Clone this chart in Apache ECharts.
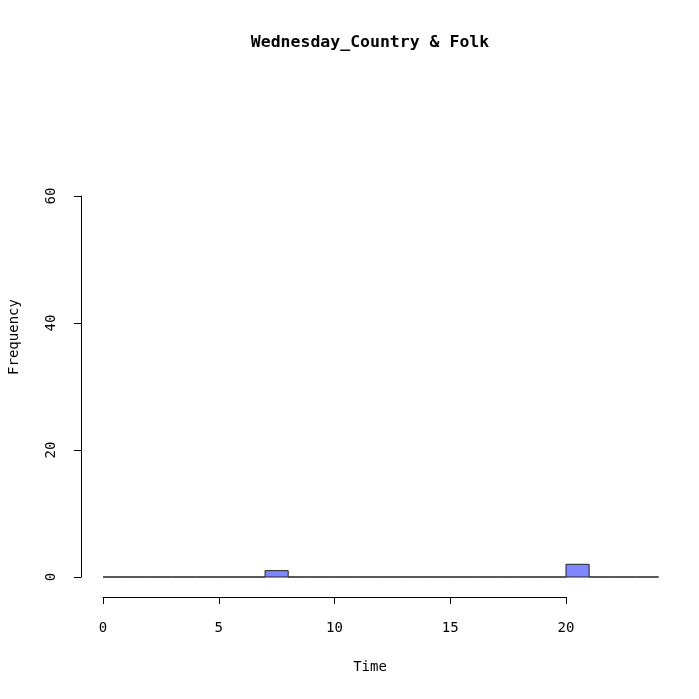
<!DOCTYPE html>
<html>
<head>
<meta charset="utf-8">
<script src="https://cdn.jsdelivr.net/npm/echarts@6/dist/echarts.min.js"></script>
<style>
  html, body { margin: 0; padding: 0; background: #fff; }
  #chart { width: 699px; height: 699px; }
</style>
</head>
<body>
<div id="chart"></div>
<script>
// histogram bins (width 1 hour) and counts
const binStarts = [0,1,2,3,4,5,6,7,8,9,10,11,12,13,14,15,16,17,18,19,20,21,22,23];
const counts    = [0,0,0,0,0,0,0,1,0,0,0,0,0,0,0,0,0,0,0,0,2,0,0,0];
const binWidth = 1;
const xTicks = [0, 5, 10, 15, 20];
const yTicks = [0, 20, 40, 60];

const FONT = "DejaVu Sans Mono";
const data = binStarts.map((s, i) => [s, s + binWidth, counts[i]]);

const chart = echarts.init(document.getElementById("chart"), null, { renderer: "canvas" });

chart.setOption({
  animation: false,
  backgroundColor: "#fff",
  title: {
    text: "Wednesday_Country & Folk",
    left: 365, top: 29, textAlign: "center",
    textStyle: { fontFamily: FONT, fontWeight: "bold", fontSize: 16.5, color: "#000" }
  },
  grid: [
    { left: 103, width: 24 * 23.15, top: 196, height: 381 },
    { left: 103, width: 20 * 23.15, top: 196, height: 381 }
  ],
  xAxis: [
    { type: "value", gridIndex: 0, min: 0, max: 24, show: false },
    {
      type: "value", gridIndex: 1, min: xTicks[0], max: xTicks[xTicks.length - 1], interval: 5,
      offset: 20,
      axisLine: { show: true, onZero: false, lineStyle: { color: "#000", width: 1 } },
      axisTick: { show: true, length: 7, lineStyle: { color: "#000" } },
      axisLabel: { fontFamily: FONT, fontSize: 14, color: "#000", margin: 24 },
      splitLine: { show: false }
    }
  ],
  yAxis: [
    {
      type: "value", gridIndex: 0, min: yTicks[0], max: yTicks[yTicks.length - 1], interval: 20,
      offset: 22,
      axisLine: { show: true, onZero: false, lineStyle: { color: "#000", width: 1 } },
      axisTick: { show: true, length: 7, lineStyle: { color: "#000" } },
      axisLabel: { fontFamily: FONT, fontSize: 14, color: "#000", rotate: 90, margin: 23 },
      splitLine: { show: false }
    },
    { type: "value", gridIndex: 1, min: 0, max: 60, show: false }
  ],
  graphic: [
    {
      type: "text", x: 370, y: 667,
      style: { text: "Time", font: "14px " + FONT, fill: "#000", textAlign: "center", textVerticalAlign: "middle" }
    },
    {
      type: "text", x: 14, y: 337, rotation: Math.PI / 2,
      style: { text: "Frequency", font: "14px " + FONT, fill: "#000", textAlign: "center", textVerticalAlign: "middle" }
    }
  ],
  series: [{
    type: "custom",
    xAxisIndex: 0, yAxisIndex: 0,
    data: data,
    renderItem: function (params, api) {
      const p0 = api.coord([api.value(0), 0]);
      const p1 = api.coord([api.value(1), api.value(2)]);
      return {
        type: "rect",
        shape: { x: p0[0], y: p1[1], width: p1[0] - p0[0], height: p0[1] - p1[1] },
        style: { fill: "#7f87ff", stroke: "#222", lineWidth: 1 }
      };
    }
  }]
});
</script>
</body>
</html>
